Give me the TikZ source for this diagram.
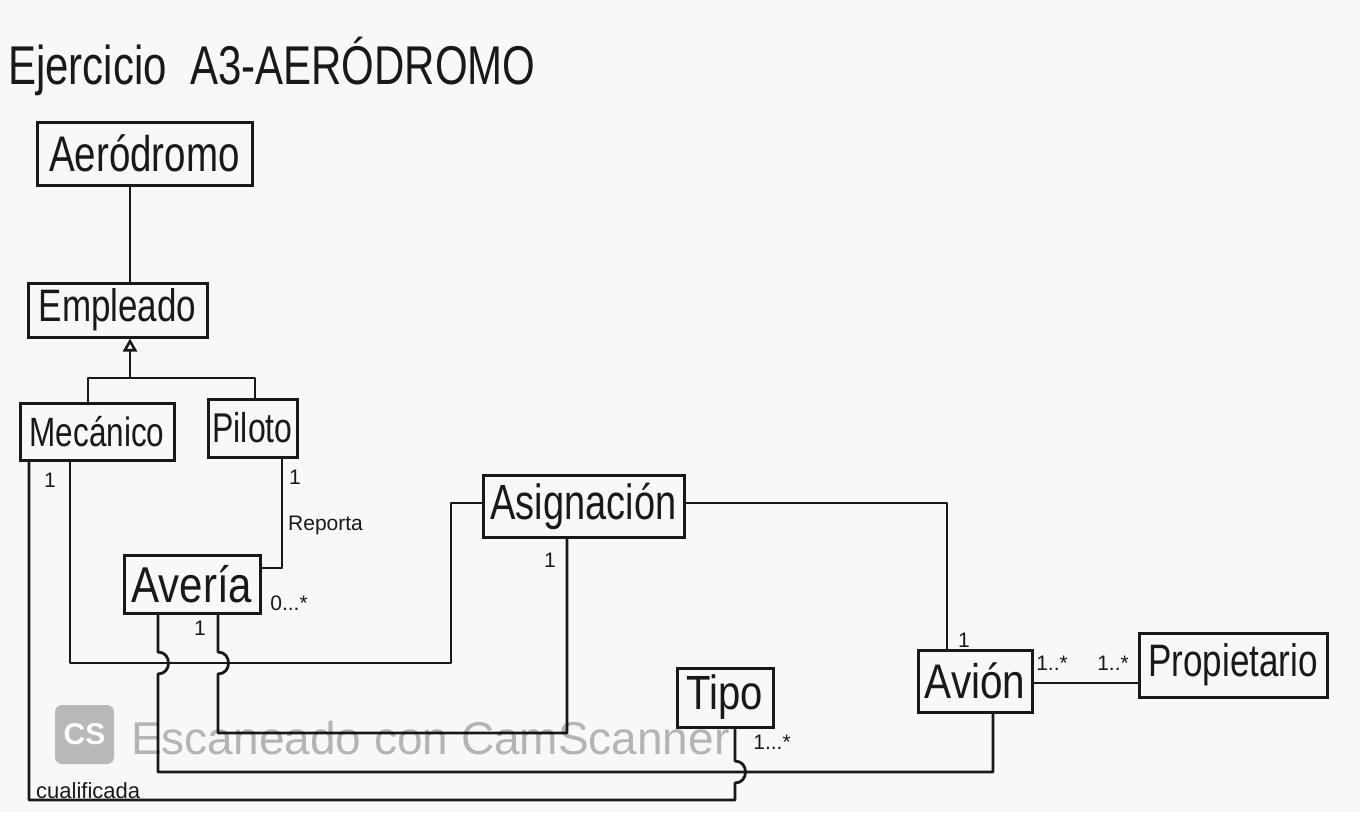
\documentclass[tikz,border=0pt]{standalone}
\usepackage{fontspec}
\setmainfont{Liberation Sans}
\usetikzlibrary{arrows.meta,calc}
\definecolor{ink}{RGB}{25,25,25}
\definecolor{paper}{RGB}{248,248,246}
\newcommand{\talltext}[2][1.3]{\scalebox{1}[#1]{#2}}
\begin{document}
\begin{tikzpicture}[x=1pt,y=-1pt,
  box/.style={draw=ink, line width=3pt, inner sep=0pt, text=ink,
    font=\fontsize{38}{38}\selectfont},
  wire/.style={draw=ink, line width=2.8pt, line join=round},
  lab/.style={font=\fontsize{21}{21}\selectfont, text=ink, inner sep=0pt}]
\fill[paper] (0,0) rectangle (1360,812);
\useasboundingbox (0,0) rectangle (1360,812);

% title
\node[anchor=base west, inner sep=0pt, text=ink, font=\fontsize{42}{42}\selectfont] (title) at (8,84) {\talltext[1.3]{Ejercicio\ \ A3-AERÓDROMO}};

% classes
\node[box, minimum width=215pt, minimum height=63pt, font=\fontsize{38.5}{38}\selectfont] (aero) at (144.5,153.5) {\talltext{Aeródromo}};
\node[box, minimum width=179pt, minimum height=54pt, font=\fontsize{35}{35}\selectfont] (emp) at (117.5,310) {\talltext{Empleado}};
\node[box, minimum width=154pt, minimum height=57pt, font=\fontsize{31.5}{31}\selectfont] (mec) at (97,431.5) {\talltext{Mecánico}};
\node[box, minimum width=89pt, minimum height=58pt, font=\fontsize{32}{32}\selectfont] (pil) at (252.5,428) {\talltext{Piloto}};
\node[box, minimum width=136pt, minimum height=58pt, font=\fontsize{42}{42}\selectfont] (ave) at (192,584) {\talltext[1.2]{Avería}};
\node[box, minimum width=201pt, minimum height=62pt, font=\fontsize{38}{38}\selectfont] (asig) at (583.5,506) {\talltext{Asignación}};
\node[box, minimum width=96pt, minimum height=59pt, font=\fontsize{40}{40}\selectfont] (tipo) at (725,697.5) {\talltext[1.2]{Tipo}};
\node[box, minimum width=114pt, minimum height=62pt, font=\fontsize{40.5}{40}\selectfont] (avion) at (975,681) {\talltext[1.2]{Avión}};
\node[box, minimum width=188pt, minimum height=64pt, font=\fontsize{35}{35}\selectfont] (prop) at (1233,665) {\talltext{Propietario}};

% Aerodromo - Empleado
\coordinate (g) at (130,378);
\draw[wire] (aero.south -| g) -- (emp.north -| g);
% generalisation
\coordinate (gm) at (88,378);
\coordinate (gp) at (255,378);
\draw[wire] (mec.north -| gm) -- (gm) -- (gp) -- (pil.north -| gp);
\draw[wire, -{Triangle[open, length=13pt, width=14pt, line width=2.6pt]}] (g) -- (emp.south -| g);

% Piloto - Averia (Reporta)
\coordinate (pr) at (282,568);
\draw[wire] (pil.south -| pr) -- (pr) -- (ave.east |- pr);

% Mecanico - Asignacion
\coordinate (m1) at (70,663);
\coordinate (m2) at (451,663);
\coordinate (m3) at (451,503);
\draw[wire] (mec.south -| m1) -- (m1) -- (m2) -- (m3) -- (asig.west |- m3);

% Mecanico - Tipo (cualificada)
\coordinate (c1) at (29,800);
\coordinate (c2) at (735,800);
\draw[wire] (mec.south -| c1) -- (c1) -- (c2) -- (735,783)
  .. controls (749,783) and (749,761) .. (735,761) -- (tipo.south -| c2);

% Averia - Avion
\coordinate (a1) at (158,772);
\coordinate (a2) at (993,772);
\draw[wire] (ave.south -| a1) -- (158,652)
  .. controls (172,652) and (172,674) .. (158,674) -- (a1) -- (a2) -- (avion.south -| a2);

% Averia - Asignacion
\coordinate (b1) at (218,733);
\coordinate (b2) at (567,733);
\draw[wire] (ave.south -| b1) -- (218,652)
  .. controls (232,652) and (232,674) .. (218,674) -- (b1) -- (b2) -- (asig.south -| b2);

% Asignacion - Avion
\coordinate (r1) at (947,503);
\draw[wire] (asig.east |- r1) -- (r1) -- (avion.north -| r1);

% Avion - Propietario
\coordinate (p1) at (1085,683);
\draw[wire] (avion.east |- p1) -- (prop.west |- p1);

% multiplicities and labels
\node[lab] (l1) at (50,480) {1};
\node[lab] (l2) at (295,477) {1};
\node[lab, anchor=west] (l3) at (288,525) {Reporta};
\node[lab] (l4) at (289,603) {0...*};
\node[lab] (l5) at (200,628) {1};
\node[lab] (l6) at (550,560) {1};
\node[lab] (l7) at (772,742) {1...*};
\node[lab] (l8) at (964,640) {1};
\node[lab] (l9) at (1052,663) {1..*};
\node[lab] (l10) at (1113,663) {1..*};
\node[lab, anchor=west, font=\fontsize{22}{22}\selectfont] (l11) at (36,791) {cualificada};

% scanner watermark
\fill[black, opacity=0.25, rounded corners=7pt] (55,705) rectangle (114,764);
\node[font=\bfseries\fontsize{30}{30}\selectfont, text=white] (cs) at (84.5,734.5) {CS};
\node[anchor=west, inner sep=0pt, text=black, text opacity=0.27, font=\fontsize{46}{46}\selectfont] (wm) at (131,738) {Escaneado con CamScanner};
\end{tikzpicture}
\end{document}
